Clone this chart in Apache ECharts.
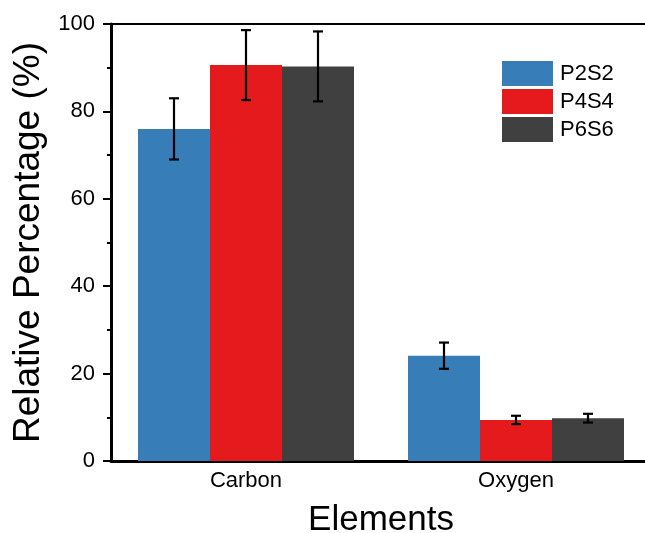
<!DOCTYPE html>
<html><head><meta charset="utf-8">
<script src="https://cdn.jsdelivr.net/npm/echarts@6/dist/echarts.min.js"></script>
<style>html,body{margin:0;padding:0;background:#fff}#c{width:645px;height:533px}</style>
</head><body><div id="c"></div>
<script>
const categories = ['Carbon', 'Oxygen'];
const seriesNames = ['P2S2', 'P4S4', 'P6S6'];
const p2s2 = [76.0, 24.1];
const p4s4 = [90.6, 9.4];
const p6s6 = [90.3, 9.8];
const p2s2Err = [7.0, 3.0];
const p4s4Err = [8.0, 0.95];
const p6s6Err = [8.0, 1.0];
const yTicks = [0, 20, 40, 60, 80, 100];
const colors = ['#377eb8', '#e41a1c', '#404040'];

const values = [p2s2, p4s4, p6s6];
const errs = [p2s2Err, p4s4Err, p6s6Err];
const font = 'Arial, "Liberation Sans", sans-serif';
const gapFrac = 0.2;

function errSeries(idx) {
  const data = categories.map((c, i) => [i, values[idx][i], errs[idx][i]]);
  return {
    type: 'custom', name: seriesNames[idx] + ' err', z: 10, silent: true,
    data: data,
    encode: {x: 0, y: 1},
    renderItem: function (params, api) {
      const ci = api.value(0), v = api.value(1), e = api.value(2);
      const band = api.size([1, 0])[0];
      const bw = band * (1 - gapFrac) / 3;
      const base = api.coord([ci, v]);
      const x = base[0] + (idx - 1) * bw;
      const yt = api.coord([ci, v + e])[1];
      const yb = api.coord([ci, v - e])[1];
      const cap = 5;
      const st = {stroke: '#000', lineWidth: 2.2};
      return {type: 'group', children: [
        {type: 'line', shape: {x1: x, y1: yt, x2: x, y2: yb}, style: st},
        {type: 'line', shape: {x1: x - cap, y1: yt, x2: x + cap, y2: yt}, style: st},
        {type: 'line', shape: {x1: x - cap, y1: yb, x2: x + cap, y2: yb}, style: st}
      ]};
    }
  };
}

const chart = echarts.init(document.getElementById('c'), null, {renderer: 'canvas'});
chart.setOption({
  animation: false,
  textStyle: {fontFamily: font},
  grid: {left: 111, top: 24, width: 540, height: 437, outerBoundsMode: 'none', containLabel: false,
    show: true, borderColor: '#000', borderWidth: 2},
  legend: {
    orient: 'vertical', left: 502, top: 61, padding: 0, itemWidth: 51, itemHeight: 25, itemGap: 3,
    icon: 'rect', data: seriesNames,
    textStyle: {fontSize: 22, color: '#000', fontFamily: font, padding: [0, 0, 0, 2]}
  },
  xAxis: {
    type: 'category', data: categories,
    name: 'Elements', nameLocation: 'middle', nameGap: 42,
    nameTextStyle: {fontSize: 35, color: '#000', fontFamily: font},
    axisLine: {lineStyle: {color: '#000', width: 3}},
    axisTick: {show: false},
    axisLabel: {fontSize: 22, color: '#000', margin: 9, fontFamily: font}
  },
  yAxis: {
    type: 'value', min: 0, max: 100, interval: 20,
    name: 'Relative Percentage (%)', nameLocation: 'middle', nameGap: 62,
    nameTextStyle: {fontSize: 37, color: '#000', fontFamily: font},
    axisLine: {show: true, lineStyle: {color: '#000', width: 3}},
    axisTick: {show: true, length: 8, lineStyle: {color: '#000', width: 2}},
    minorTick: {show: true, splitNumber: 2, length: 4, lineStyle: {color: '#000', width: 2}},
    splitLine: {show: false},
    axisLabel: {fontSize: 22, color: '#000', margin: 16, fontFamily: font,
      formatter: v => yTicks.includes(v) ? String(v) : ''}
  },
  series: [
    ...seriesNames.map((n, i) => ({
      type: 'bar', name: n, data: values[i], barGap: '0%', barCategoryGap: (gapFrac * 100) + '%',
      itemStyle: {color: colors[i]}
    })),
    errSeries(0), errSeries(1), errSeries(2)
  ]
});
</script></body></html>
